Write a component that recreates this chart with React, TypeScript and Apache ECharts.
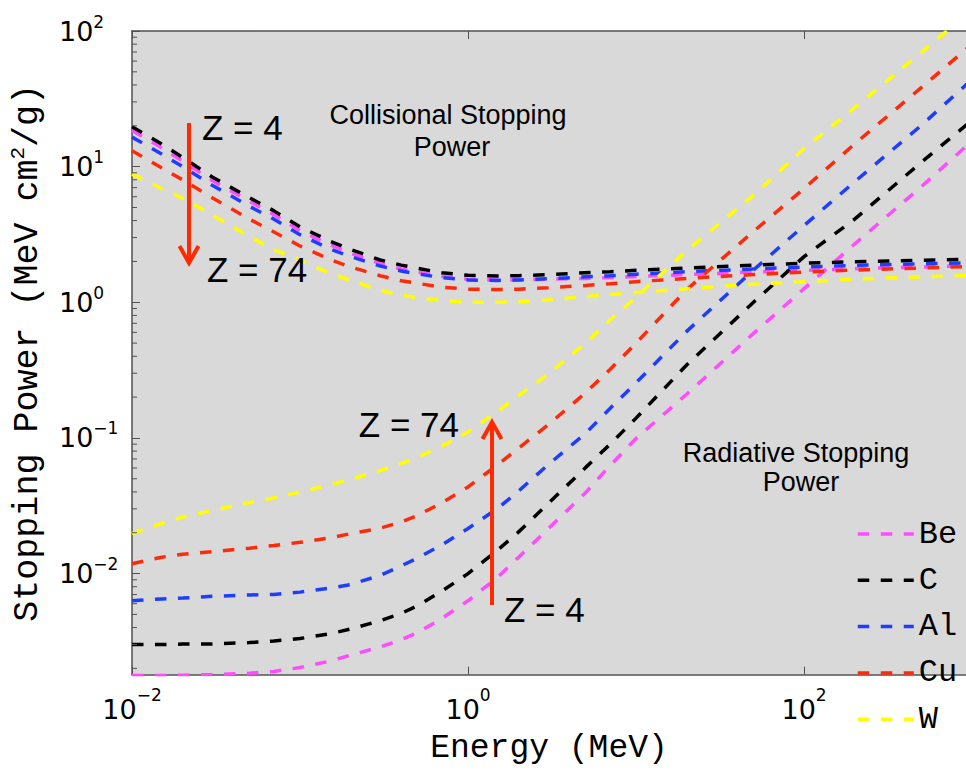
import React, { useEffect, useRef } from 'react';
import * as echarts from 'echarts';

// Electron kinetic energy (MeV)
const energies = [0.01, 0.015, 0.02, 0.03, 0.05, 0.07, 0.1, 0.15, 0.2, 0.3, 0.4, 0.5, 0.7, 1, 1.5, 2, 3, 5, 7, 10, 20, 50, 100, 200, 500, 1000];

const elements = ['Be', 'C', 'Al', 'Cu', 'W'];
const colors = ['#ff4cff', '#000000', '#1f3dff', '#ff2a0a', '#ffff00'];

// Collisional stopping power (MeV cm^2/g)
const collBe = [18.5, 13.8, 11.0, 7.9, 5.55, 4.43, 3.38, 2.66, 2.3, 1.93, 1.76, 1.67, 1.55, 1.48, 1.46, 1.46, 1.48, 1.5, 1.52, 1.55, 1.6, 1.67, 1.72, 1.77, 1.82, 1.86];
const collC = [19.7, 14.7, 11.7, 8.4, 5.9, 4.72, 3.6, 2.83, 2.45, 2.05, 1.88, 1.78, 1.65, 1.58, 1.56, 1.57, 1.6, 1.65, 1.68, 1.72, 1.79, 1.88, 1.94, 1.99, 2.04, 2.08];
const collAl = [16.5, 12.4, 10.0, 7.3, 5.1, 4.1, 3.15, 2.48, 2.17, 1.85, 1.7, 1.62, 1.52, 1.46, 1.45, 1.46, 1.49, 1.54, 1.57, 1.61, 1.68, 1.76, 1.82, 1.87, 1.92, 1.96];
const collCu = [13.1, 9.8, 8.0, 5.9, 4.1, 3.3, 2.6, 2.07, 1.82, 1.57, 1.44, 1.38, 1.29, 1.25, 1.24, 1.25, 1.28, 1.33, 1.37, 1.42, 1.5, 1.6, 1.67, 1.73, 1.79, 1.84];
const collW = [8.8, 6.9, 5.85, 4.4, 3.05, 2.44, 2.05, 1.64, 1.45, 1.22, 1.13, 1.08, 1.03, 1.0, 1.0, 1.01, 1.04, 1.1, 1.14, 1.18, 1.26, 1.36, 1.42, 1.48, 1.54, 1.58];

// Radiative stopping power (MeV cm^2/g)
const radBe = [0.00177, 0.00177, 0.00178, 0.0018, 0.00184, 0.0019, 0.00203, 0.00226, 0.0025, 0.00288, 0.00326, 0.00366, 0.00468, 0.0063, 0.0094, 0.0132, 0.0214, 0.0394, 0.0625, 0.099, 0.21, 0.59, 1.26, 2.69, 7.13, 15.5];
const radC = [0.003, 0.003, 0.00302, 0.00303, 0.0031, 0.00318, 0.00332, 0.0036, 0.0039, 0.0045, 0.00508, 0.0058, 0.00743, 0.01, 0.0149, 0.0203, 0.0328, 0.0604, 0.0897, 0.14, 0.345, 1.0, 2.17, 4.1, 10.8, 22];
const radAl = [0.0063, 0.0065, 0.0066, 0.0068, 0.00695, 0.00702, 0.0073, 0.0078, 0.0083, 0.0097, 0.0114, 0.013, 0.0163, 0.0215, 0.0302, 0.0406, 0.0635, 0.108, 0.165, 0.255, 0.61, 1.73, 3.68, 7.74, 20.2, 44];
const radCu = [0.0118, 0.0132, 0.0139, 0.0145, 0.0154, 0.0161, 0.017, 0.0183, 0.0197, 0.0216, 0.024, 0.0268, 0.0333, 0.0435, 0.0635, 0.084, 0.125, 0.215, 0.32, 0.5, 1.24, 3.33, 6.9, 14.7, 38.4, 80];
const radW = [0.0197, 0.0234, 0.0261, 0.0292, 0.0334, 0.0362, 0.04, 0.0449, 0.0496, 0.0575, 0.0646, 0.072, 0.087, 0.111, 0.157, 0.205, 0.295, 0.5, 0.74, 1.09, 2.4, 6.15, 13.6, 27.2, 69.5, 144];

const collisional = [collBe, collC, collAl, collCu, collW];
const radiative = [radBe, radC, radAl, radCu, radW];

const X_MIN = 0.01;
const X_MAX = 920;
const Y_MIN = 0.0018;
const Y_MAX = 100;

// minor tick values on the stopping-power axis (2..9 x 10^n)
const minorMultipliers = [2, 3, 4, 5, 6, 7, 8, 9];
const minorDecades = [-3, -2, -1, 0, 1];
const minorTickValues = minorDecades
  .flatMap((d) => minorMultipliers.map((m) => m * Math.pow(10, d)))
  .filter((v) => v > Y_MIN && v < Y_MAX);

const AXIS_COLOR = '#505050';
const ARROW_COLOR = '#ff2a00';
const SANS = 'Liberation Sans';
const MONO = 'Liberation Mono';
const TICK_FONT = 'DejaVu Sans';
const DASH = [11.5, 11.5];

function powerLabel(v: number): string {
  const p = Math.log10(v);
  const n = Math.round(p);
  if (Math.abs(p - n) > 1e-6) return '';
  const exp = n < 0 ? '\u2212' + String(-n) : String(n);
  return `{b|10}{e|${exp}}`;
}

const yRich = {
  b: { fontFamily: TICK_FONT, fontSize: 27, lineHeight: 36, color: '#000' },
  e: { fontFamily: TICK_FONT, fontSize: 17, lineHeight: 17, verticalAlign: 'top', color: '#000' },
};
const xRich = {
  b: { fontFamily: TICK_FONT, fontSize: 27, lineHeight: 46, color: '#000' },
  e: { fontFamily: TICK_FONT, fontSize: 17, lineHeight: 17, verticalAlign: 'top', color: '#000' },
};

function lineSeries(name: string, color: string, values: number[]) {
  return {
    type: 'line',
    name,
    data: energies.map((e, i) => [e, values[i]]),
    symbol: 'none',
    showSymbol: false,
    smooth: false,
    clip: true,
    silent: true,
    lineStyle: { color, width: 3.5, type: DASH, cap: 'butt' },
    itemStyle: { color },
    z: 3,
  };
}

function annotation(text: string, x: number, y: number, align: string, size: number) {
  return {
    type: 'text',
    x,
    y,
    z: 100,
    style: {
      text,
      fontFamily: SANS,
      fontSize: size,
      fill: '#000',
      align,
      verticalAlign: 'middle',
    },
  };
}

export default function App() {
  const ref = useRef<HTMLDivElement>(null);

  useEffect(() => {
    document.body.style.margin = '0';
    if (!ref.current) return;
    const chart = echarts.init(ref.current, undefined, { renderer: 'svg' });

    const series: any[] = [];
    elements.forEach((el, i) => {
      series.push(lineSeries(el, colors[i], collisional[i]));
      series.push(lineSeries(el, colors[i], radiative[i]));
    });
    series.push({
      type: 'custom',
      name: 'minorTicks',
      silent: true,
      z: 5,
      data: minorTickValues.map((v) => [X_MIN, v]),
      renderItem: (_params: any, api: any) => {
        const p = api.coord([api.value(0), api.value(1)]);
        return {
          type: 'line',
          shape: { x1: p[0], y1: p[1], x2: p[0] + 5, y2: p[1] },
          style: { stroke: AXIS_COLOR, lineWidth: 1 },
        };
      },
    });

    const option: any = {
      animation: false,
      backgroundColor: '#ffffff',
      grid: {
        left: 132,
        right: 0,
        top: 31,
        bottom: 79,
        show: true,
        backgroundColor: '#d9d9d9',
        borderWidth: 0,
      },
      legend: {
        data: elements,
        orient: 'vertical',
        left: 851,
        top: 513,
        itemWidth: 56,
        itemHeight: 14,
        itemGap: 14.3,
        selectedMode: false,
        itemStyle: { opacity: 0 },
        lineStyle: { width: 3.5, type: DASH, cap: 'butt' },
        textStyle: { fontFamily: MONO, fontSize: 32, lineHeight: 20, color: '#000' },
      },
      xAxis: [
        {
          type: 'log',
          logBase: 10,
          min: X_MIN,
          max: X_MAX,
          interval: 2,
          position: 'bottom',
          axisLine: { show: true, onZero: false, lineStyle: { color: AXIS_COLOR, width: 1.5 } },
          axisTick: { show: true, inside: true, length: 8, lineStyle: { color: AXIS_COLOR, width: 1 } },
          axisLabel: { formatter: powerLabel, margin: 12, rich: xRich, showMaxLabel: false, color: '#000' },
          splitLine: { show: false },
          name: 'Energy (MeV)',
          nameLocation: 'middle',
          nameGap: 45,
          nameTextStyle: { fontFamily: MONO, fontSize: 33, lineHeight: 40, color: '#000' },
        },
        {
          type: 'log',
          logBase: 10,
          min: X_MIN,
          max: X_MAX,
          interval: 2,
          position: 'top',
          axisLine: { show: true, onZero: false, lineStyle: { color: AXIS_COLOR, width: 1.5 } },
          axisTick: { show: true, inside: true, length: 8, lineStyle: { color: AXIS_COLOR, width: 1 } },
          axisLabel: { show: false },
          splitLine: { show: false },
        },
      ],
      yAxis: {
        type: 'log',
        logBase: 10,
        min: Y_MIN,
        max: Y_MAX,
        axisLine: { show: true, onZero: false, lineStyle: { color: AXIS_COLOR, width: 1.5 } },
        axisTick: { show: true, inside: true, length: 8, lineStyle: { color: AXIS_COLOR, width: 1 } },
        axisLabel: { formatter: powerLabel, margin: 73, align: 'left', rich: yRich, showMinLabel: false, color: '#000' },
        splitLine: { show: false },
        name: 'Stopping Power (MeV cm{s|2}/g)',
        nameLocation: 'middle',
        nameGap: 75,
        nameTextStyle: {
          fontFamily: MONO,
          fontSize: 35,
          lineHeight: 40,
          color: '#000',
          rich: { s: { fontFamily: MONO, fontSize: 21, lineHeight: 21, verticalAlign: 'top', color: '#000' } },
        },
      },
      series,
      graphic: [
        annotation('Collisional Stopping', 448, 115, 'center', 27),
        annotation('Power', 452, 147, 'center', 27),
        annotation('Radiative Stopping', 796, 453, 'center', 27),
        annotation('Power', 801, 482, 'center', 27),
        annotation('Z = 4', 202, 127, 'left', 35),
        annotation('Z = 74', 207, 269, 'left', 35),
        annotation('Z = 74', 459, 424, 'right', 35),
        annotation('Z = 4', 504, 609, 'left', 35),
        {
          type: 'line',
          z: 90,
          shape: { x1: 189, y1: 123, x2: 189, y2: 260 },
          style: { stroke: ARROW_COLOR, lineWidth: 4 },
        },
        {
          type: 'polyline',
          z: 90,
          shape: { points: [[179.5, 246], [189, 263], [198.5, 246]] },
          style: { stroke: ARROW_COLOR, lineWidth: 4, fill: 'none', lineJoin: 'miter' },
        },
        {
          type: 'line',
          z: 90,
          shape: { x1: 492, y1: 605, x2: 492, y2: 424 },
          style: { stroke: ARROW_COLOR, lineWidth: 4 },
        },
        {
          type: 'polyline',
          z: 90,
          shape: { points: [[482.5, 439], [492, 422], [501.5, 439]] },
          style: { stroke: ARROW_COLOR, lineWidth: 4, fill: 'none', lineJoin: 'miter' },
        },
      ],
    };

    chart.setOption(option);
    return () => chart.dispose();
  }, []);

  return (
    <div style={{ width: 966, height: 773, overflow: 'hidden', background: '#fff' }}>
      <div ref={ref} style={{ width: 966, height: 773 }} />
    </div>
  );
}
